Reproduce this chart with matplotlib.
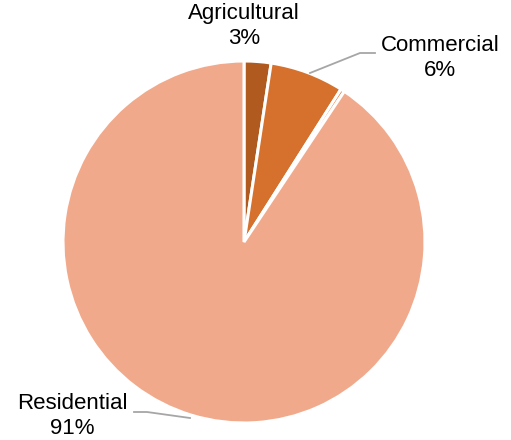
import numpy as np
import matplotlib
matplotlib.use('Agg')
import matplotlib.pyplot as plt
matplotlib.rcParams['font.family'] = ['Liberation Sans', 'DejaVu Sans']

# data
sectors = ['Agricultural', 'Commercial', 'Industrial', 'Residential']
shares = [2.4, 6.6, 0.35, 90.65]
colors = ['#B05A20', '#D5702D', '#E07A38', '#F1A98B']
shown = ['3%', '6%', None, '91%']

fig = plt.figure(figsize=(5.11, 4.40), dpi=100)
ax = fig.add_axes([0, 0, 1, 1])

cx, cy, R = 244, 198, 181
ax.pie(shares, colors=colors, startangle=90, counterclock=False,
       center=(cx, cy), radius=R, frame=True,
       wedgeprops=dict(edgecolor='white', linewidth=2.2))
ax.set_xlim(0, 511)
ax.set_ylim(0, 440)
ax.set_aspect('equal')
ax.axis('off')

# labels + leader lines
fs = 16
pos = {'Agricultural': (244, 414), 'Commercial': (440, 382), 'Residential': (72, 24)}
for name, txt in zip(sectors, shown):
    if txt is None:
        continue
    x, y = pos[name]
    ax.text(x, y, name + '\n' + txt, ha='center', va='center',
            fontsize=fs, linespacing=1.2)
ax.plot([310, 360, 375], [367, 387, 387], color='#A6A6A6', lw=1.3)
ax.plot([134, 147, 190], [28, 28, 22], color='#A6A6A6', lw=1.3)

fig.savefig('out.png', dpi=100)
